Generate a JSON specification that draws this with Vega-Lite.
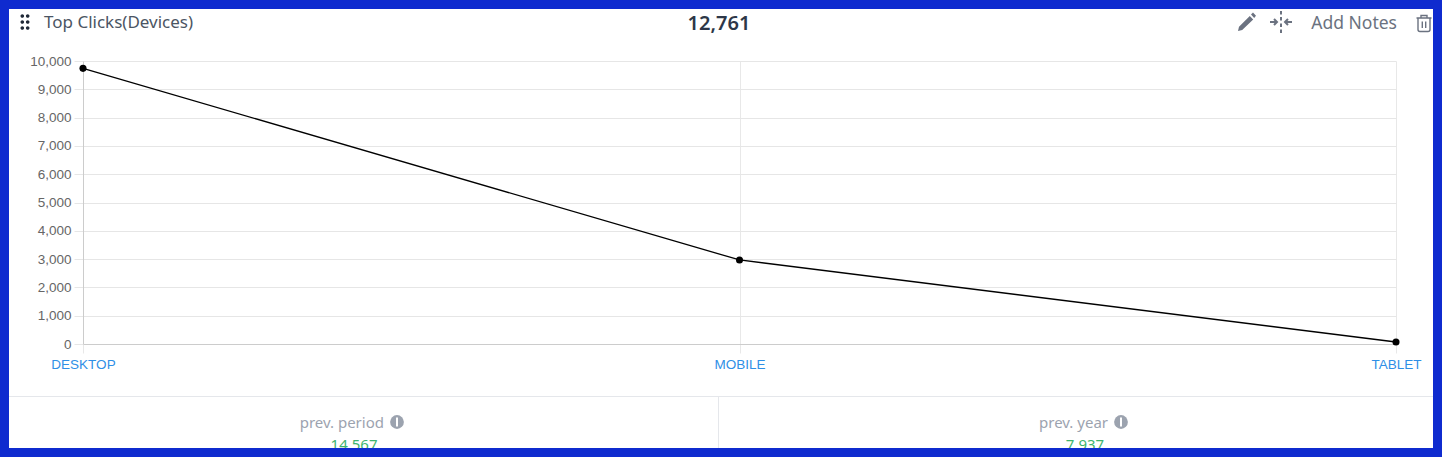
{"$schema":"https://vega.github.io/schema/vega-lite/v6.json","width":1313,"height":283,"autosize":{"type":"none"},"padding":{"left":83,"top":61,"right":46,"bottom":113},"background":"#ffffff","config":{"view":{"stroke":null},"text":{"font":"Noto Sans"}},"resolve":{"scale":{"x":"independent","y":"independent"},"axis":{"x":"independent","y":"independent"}},
"layer":[
{"data":{"values":[{"part":"footer divider"}]},"mark":{"type":"rule","color":"#e5e7eb","strokeWidth":1},"encoding":{"x":{"datum":9,"type":"quantitative","scale":{"domain":[0,1442],"range":[-83,1359]},"axis":null},"x2":{"datum":1433},"y":{"datum":396.5,"type":"quantitative","scale":{"domain":[0,457],"range":[-61,396]},"axis":null}}},
{"data":{"values":[{"part":"footer split"}]},"mark":{"type":"rule","color":"#e5e7eb","strokeWidth":1},"encoding":{"x":{"datum":718.5,"type":"quantitative","scale":{"domain":[0,1442],"range":[-83,1359]},"axis":null},"y":{"datum":397,"type":"quantitative","scale":{"domain":[0,457],"range":[-61,396]},"axis":null},"y2":{"datum":448}}},
{"data":{"values":[{"device":"DESKTOP","clicks":9740},{"device":"MOBILE","clicks":2970},{"device":"TABLET","clicks":71}]},"mark":{"type":"line","color":"#000000","strokeWidth":1.3,"clip":false,"point":{"filled":true,"color":"#000000","size":50,"opacity":1}},"encoding":{"x":{"field":"device","type":"nominal","sort":null,"scale":{"type":"point","padding":0},"axis":{"title":null,"labelAngle":0,"labelFont":"Liberation Sans","labelFontSize":13.5,"labelColor":"#2f8fe6","labelPadding":4,"labelFlush":false,"labelOverlap":false,"labelBound":false,"tickColor":"#e8e8e8","tickSize":9,"domainColor":"#cccccc","gridColor":"#e8e8e8","grid":true}},"y":{"field":"clicks","type":"quantitative","scale":{"domain":[0,10000],"nice":false},"axis":{"title":null,"values":[0,1000,2000,3000,4000,5000,6000,7000,8000,9000,10000],"labelExpr":"format(datum.value, ',.0f')","labelFont":"Liberation Sans","labelFontSize":13.5,"labelColor":"#666666","labelPadding":3,"labelBound":false,"labelFlush":false,"labelOverlap":false,"tickColor":"#e6e6e6","tickSize":9,"domainColor":"#cccccc","gridColor":"#e6e6e6","grid":true}}}},
{"data":{"values":[{"label":"Top Clicks(Devices)"}]},"mark":{"type":"text","align":"left","baseline":"middle","fontSize":17,"color":"#4b5563"},"encoding":{"text":{"field":"label"},"x":{"datum":44,"type":"quantitative","scale":{"domain":[0,1442],"range":[-83,1359]},"axis":null},"y":{"datum":23,"type":"quantitative","scale":{"domain":[0,457],"range":[-61,396]},"axis":null}}},
{"data":{"values":[{"label":"12,761"}]},"mark":{"type":"text","align":"center","baseline":"middle","fontSize":20,"fontWeight":600,"color":"#2d3748"},"encoding":{"text":{"field":"label"},"x":{"datum":719,"type":"quantitative","scale":{"domain":[0,1442],"range":[-83,1359]},"axis":null},"y":{"datum":24,"type":"quantitative","scale":{"domain":[0,457],"range":[-61,396]},"axis":null}}},
{"data":{"values":[{"label":"Add Notes"}]},"mark":{"type":"text","align":"right","baseline":"middle","fontSize":17.5,"color":"#6b7280"},"encoding":{"text":{"field":"label"},"x":{"datum":1397,"type":"quantitative","scale":{"domain":[0,1442],"range":[-83,1359]},"axis":null},"y":{"datum":24,"type":"quantitative","scale":{"domain":[0,457],"range":[-61,396]},"axis":null}}},
{"data":{"values":[{"label":"prev. period"}]},"mark":{"type":"text","align":"right","baseline":"middle","fontSize":15,"color":"#9ca3af"},"encoding":{"text":{"field":"label"},"x":{"datum":384,"type":"quantitative","scale":{"domain":[0,1442],"range":[-83,1359]},"axis":null},"y":{"datum":423,"type":"quantitative","scale":{"domain":[0,457],"range":[-61,396]},"axis":null}}},
{"data":{"values":[{"label":"prev. year"}]},"mark":{"type":"text","align":"right","baseline":"middle","fontSize":15,"color":"#9ca3af"},"encoding":{"text":{"field":"label"},"x":{"datum":1108,"type":"quantitative","scale":{"domain":[0,1442],"range":[-83,1359]},"axis":null},"y":{"datum":423,"type":"quantitative","scale":{"domain":[0,457],"range":[-61,396]},"axis":null}}},
{"data":{"values":[{"label":"14,567"}]},"mark":{"type":"text","align":"center","baseline":"middle","fontSize":15,"color":"#3fb56f"},"encoding":{"text":{"field":"label"},"x":{"datum":354,"type":"quantitative","scale":{"domain":[0,1442],"range":[-83,1359]},"axis":null},"y":{"datum":445,"type":"quantitative","scale":{"domain":[0,457],"range":[-61,396]},"axis":null}}},
{"data":{"values":[{"label":"7,937"}]},"mark":{"type":"text","align":"center","baseline":"middle","fontSize":15,"color":"#3fb56f"},"encoding":{"text":{"field":"label"},"x":{"datum":1085,"type":"quantitative","scale":{"domain":[0,1442],"range":[-83,1359]},"axis":null},"y":{"datum":445,"type":"quantitative","scale":{"domain":[0,457],"range":[-61,396]},"axis":null}}},
{"data":{"values":[{"icon":"info period"},{"icon":"info year"}]},"mark":{"type":"point","shape":"circle","filled":true,"color":"#9ca3af","opacity":1,"size":190},"encoding":{"x":{"field":"icon","type":"nominal","scale":{"type":"point","padding":0,"domain":["info period","info year"],"range":[314,1038]},"axis":null},"y":{"datum":422,"type":"quantitative","scale":{"domain":[0,457],"range":[-61,396]},"axis":null}}},
{"data":{"values":[{"icon":"info period"},{"icon":"info year"}]},"mark":{"type":"point","shape":"M-1,-4.5 H1 V4.5 H-1 Z","filled":true,"color":"#ffffff","opacity":1,"size":4},"encoding":{"x":{"field":"icon","type":"nominal","scale":{"type":"point","padding":0,"domain":["info period","info year"],"range":[314,1038]},"axis":null},"y":{"datum":422,"type":"quantitative","scale":{"domain":[0,457],"range":[-61,396]},"axis":null}}},
{"data":{"values":[{"icon":"grip"}]},"mark":{"type":"point","shape":"M-4.5,-6 a1.8,1.8 0 1,0 3.6,0 a1.8,1.8 0 1,0 -3.6,0 Z M0.9,-6 a1.8,1.8 0 1,0 3.6,0 a1.8,1.8 0 1,0 -3.6,0 Z M-4.5,0 a1.8,1.8 0 1,0 3.6,0 a1.8,1.8 0 1,0 -3.6,0 Z M0.9,0 a1.8,1.8 0 1,0 3.6,0 a1.8,1.8 0 1,0 -3.6,0 Z M-4.5,6 a1.8,1.8 0 1,0 3.6,0 a1.8,1.8 0 1,0 -3.6,0 Z M0.9,6 a1.8,1.8 0 1,0 3.6,0 a1.8,1.8 0 1,0 -3.6,0 Z","filled":true,"color":"#1f2937","opacity":1,"size":4},"encoding":{"x":{"datum":25,"type":"quantitative","scale":{"domain":[0,1442],"range":[-83,1359]},"axis":null},"y":{"datum":22,"type":"quantitative","scale":{"domain":[0,457],"range":[-61,396]},"axis":null}}},
{"data":{"values":[{"icon":"pencil"}]},"mark":{"type":"point","shape":"M-9,9 L-8,4.8 L2.8,-6 L6.2,-2.6 L-4.8,8 Z M4,-7.4 L6,-9.4 L9,-6.2 L7.2,-4 Z","filled":true,"color":"#6b7280","opacity":1,"size":4},"encoding":{"x":{"datum":1247,"type":"quantitative","scale":{"domain":[0,1442],"range":[-83,1359]},"axis":null},"y":{"datum":22,"type":"quantitative","scale":{"domain":[0,457],"range":[-61,396]},"axis":null}}},
{"data":{"values":[{"icon":"collapse"}]},"mark":{"type":"point","shape":"M0,-11 V-7.5 M0,-5 V-1.5 M0,1.5 V5 M0,7.5 V11 M-11,0 H-4 M-7,-3 L-4,0 L-7,3 M11,0 H4 M7,-3 L4,0 L7,3","filled":false,"color":"#6b7280","opacity":1,"strokeWidth":2,"size":4},"encoding":{"x":{"datum":1281,"type":"quantitative","scale":{"domain":[0,1442],"range":[-83,1359]},"axis":null},"y":{"datum":22,"type":"quantitative","scale":{"domain":[0,457],"range":[-61,396]},"axis":null}}},
{"data":{"values":[{"icon":"trash"}]},"mark":{"type":"point","shape":"M-6,-5 V6.5 Q-6,8.5 -4,8.5 H4 Q6,8.5 6,6.5 V-5 M-7.5,-5 H7.5 M-3,-5 V-7.5 H3 V-5 M-1.7,-1.5 V5 M1.7,-1.5 V5","filled":false,"color":"#6b7280","opacity":1,"strokeWidth":1.4,"size":4},"encoding":{"x":{"datum":1424,"type":"quantitative","scale":{"domain":[0,1442],"range":[-83,1359]},"axis":null},"y":{"datum":23,"type":"quantitative","scale":{"domain":[0,457],"range":[-61,396]},"axis":null}}},
{"data":{"values":[{"part":"frame"}]},"mark":{"type":"rect","fill":null,"fillOpacity":0,"stroke":"#0f2bcf","strokeWidth":9},"encoding":{"x":{"datum":4.5,"type":"quantitative","scale":{"domain":[0,1442],"range":[-83,1359]},"axis":null},"x2":{"datum":1437.5},"y":{"datum":4.5,"type":"quantitative","scale":{"domain":[0,457],"range":[-61,396]},"axis":null},"y2":{"datum":452.5}}}
]}
